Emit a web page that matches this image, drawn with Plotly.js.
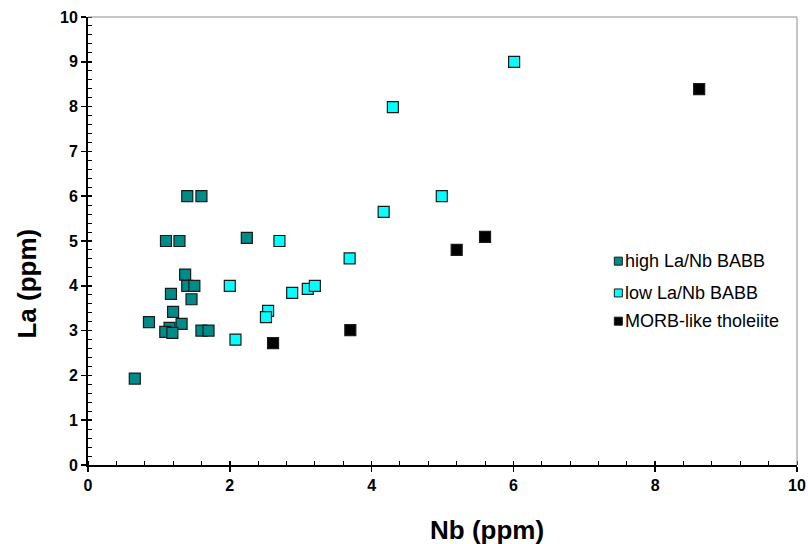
<!DOCTYPE html>
<html>
<head>
<meta charset="utf-8">
<script src="https://cdn.plot.ly/plotly-3.0.1.min.js"></script>
<style>html,body{margin:0;padding:0;background:#fff;}#chart{width:808px;height:544px;}</style>
</head>
<body>
<div id="chart"></div>
<script>
var seriesNames = ["high La/Nb BABB", "low La/Nb BABB", "MORB-like tholeiite"];
var seriesColors = ["#008b8b", "#00ffff", "#000000"];
var highNb = [1.40, 1.60, 1.10, 1.29, 2.24, 1.37, 1.40, 1.50, 1.17, 1.46, 1.20, 0.86, 1.32, 1.15, 1.09, 1.19, 1.60, 1.70, 0.66];
var highLa = [6.00, 6.00, 5.00, 5.00, 5.07, 4.25, 4.00, 4.00, 3.82, 3.70, 3.42, 3.19, 3.15, 3.06, 2.97, 2.95, 3.00, 3.00, 1.93];
var lowNb = [2.70, 2.00, 3.69, 2.88, 3.10, 3.20, 2.54, 2.51, 2.08, 4.17, 4.30, 4.99, 6.01];
var lowLa = [5.00, 4.00, 4.61, 3.84, 3.93, 4.00, 3.44, 3.30, 2.80, 5.65, 7.99, 6.00, 9.00];
var morbNb = [2.61, 3.70, 5.20, 5.60, 8.62];
var morbLa = [2.72, 3.01, 4.80, 5.09, 8.39];
var xTicks = [0, 2, 4, 6, 8, 10];
var yTicks = [0, 1, 2, 3, 4, 5, 6, 7, 8, 9, 10];
var xTitle = "Nb (ppm)";
var yTitle = "La (ppm)";

var FF = 'Liberation Sans, Arial, sans-serif';
function tr(x, y, i) {
  return {
    x: x, y: y, name: seriesNames[i], type: 'scatter', mode: 'markers', showlegend: false,
    marker: {symbol: 'square', size: 11, color: seriesColors[i], line: {color: '#1a1a1a', width: 1.2}}
  };
}
var data = [tr(highNb, highLa, 0), tr(lowNb, lowLa, 1), tr(morbNb, morbLa, 2),
  {x: [], y: [], xaxis: 'x2', yaxis: 'y2', type: 'scatter', mode: 'markers', showlegend: false}];

var legendY = [0.455, 0.384, 0.321];
var legendMarkX = 0.748;
var legendTextX = 0.754;
var annotations = [
  {xref: 'paper', yref: 'paper', x: 0.563, y: -0.145, xanchor: 'center', yanchor: 'middle', showarrow: false,
   text: '<b>' + xTitle + '</b>', font: {family: FF, size: 26, color: '#000'}},
  {xref: 'paper', yref: 'paper', x: -0.086, y: 0.405, xanchor: 'center', yanchor: 'middle', showarrow: false, textangle: -90,
   text: '<b>' + yTitle + '</b>', font: {family: FF, size: 26, color: '#000'}}
];
var shapes = [
  {type: 'line', xref: 'paper', yref: 'paper', x0: 0, x1: 1, y0: 1, y1: 1, line: {color: '#8c8c8c', width: 1}},
  {type: 'line', xref: 'paper', yref: 'paper', x0: 1, x1: 1, y0: 0, y1: 1, line: {color: '#8c8c8c', width: 1}}
];
seriesNames.forEach(function (n, i) {
  annotations.push({xref: 'paper', yref: 'paper', x: legendTextX, y: legendY[i], xanchor: 'left', yanchor: 'middle',
    showarrow: false, text: n, font: {family: FF, size: 18, color: '#000'}});
  shapes.push({type: 'rect', xref: 'paper', yref: 'paper', xsizemode: 'pixel', ysizemode: 'pixel',
    xanchor: legendMarkX, yanchor: legendY[i], x0: -4, x1: 4, y0: -4, y1: 4,
    fillcolor: seriesColors[i], line: {color: '#1a1a1a', width: 1}});
});

function bold(a) { return a.map(function (v) { return '<b>' + v + '</b>'; }); }
var tickFont = {family: FF, size: 16, color: '#000'};
var layout = {
  width: 808, height: 544,
  margin: {l: 88, r: 11, t: 17, b: 79},
  paper_bgcolor: '#fff', plot_bgcolor: '#fff',
  font: {family: FF, color: '#000'},
  showlegend: false,
  xaxis: {
    range: [0, 10], tickvals: xTicks, ticktext: bold(xTicks), automargin: false,
    showgrid: false, zeroline: false, showline: true, linecolor: '#000', linewidth: 2,
    ticks: 'outside', ticklen: 5, tickwidth: 1.5, tickcolor: '#000', tickfont: tickFont,
    minor: {dtick: 0.4, ticks: 'inside', ticklen: 4, tickwidth: 1, tickcolor: '#000', showgrid: false}
  },
  yaxis: {
    range: [0, 10], tickvals: yTicks, ticktext: bold(yTicks), automargin: false,
    showgrid: false, zeroline: false, showline: true, linecolor: '#000', linewidth: 2,
    ticks: 'outside', ticklen: 5, tickwidth: 1.5, tickcolor: '#000', tickfont: tickFont,
    minor: {dtick: 0.2, ticks: 'inside', ticklen: 4, tickwidth: 1, tickcolor: '#000', showgrid: false}
  },
  xaxis2: {overlaying: 'x', anchor: 'y2', side: 'bottom', range: [0, 10], tickvals: xTicks, ticks: 'inside', ticklen: 4,
    tickwidth: 1.5, tickcolor: '#000', showticklabels: false, showline: false, showgrid: false, zeroline: false},
  yaxis2: {overlaying: 'y', anchor: 'x2', side: 'left', range: [0, 10], tickvals: yTicks, ticks: 'inside', ticklen: 4,
    tickwidth: 1.5, tickcolor: '#000', showticklabels: false, showline: false, showgrid: false, zeroline: false},
  annotations: annotations,
  shapes: shapes
};
Plotly.newPlot('chart', data, layout, {staticPlot: true, displayModeBar: false});
</script>
</body>
</html>
